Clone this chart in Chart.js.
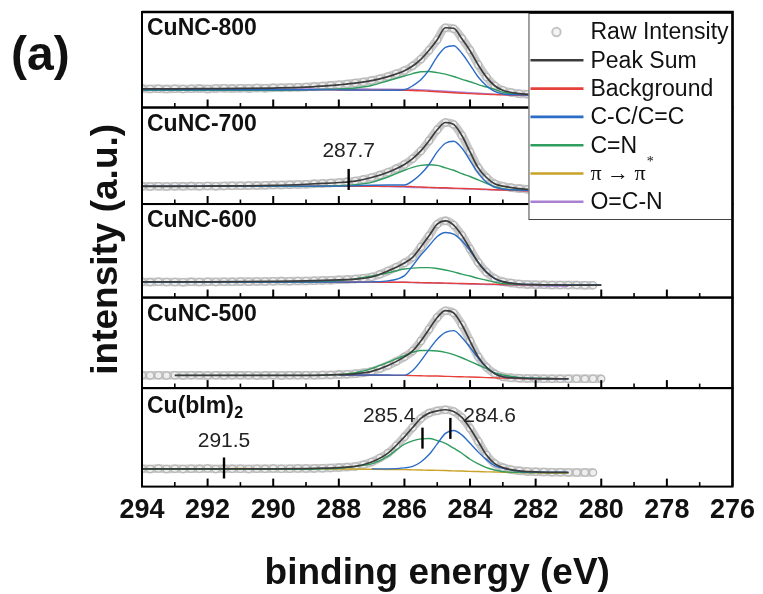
<!DOCTYPE html>
<html><head><meta charset="utf-8">
<script src="https://cdn.jsdelivr.net/npm/chart.js@4.4.0/dist/chart.umd.min.js"></script>
<style>html,body{margin:0;padding:0;background:#fff;}</style>
</head><body>
<canvas id="c" width="763" height="594"></canvas>
<script>
// ---------- DATA (intensity in arbitrary units, 0-100 per panel) ----------
const energies = [294,293,292,291,290,289,288.5,288,287.5,287,286.5,286,285.75,285.5,285.25,285,284.75,284.5,284.25,284,283.75,283.5,283.25,283,282.5,282,281.5,281,280.5,280];
const rawEnergies = [294,293.75,293.5,293.25,293,292.75,292.5,292.25,292,291.75,291.5,291.25,291,290.75,290.5,290.25,290,289.75,289.5,289.25,289,
  288.75,288.5,288.25,288,287.75,287.5,287.25,287,286.75,286.5,286.25,286,285.75,285.5,285.25,285,284.75,284.5,284.25,284,283.75,283.5,283.25,283,282.75,282.5,282.25,282,281.75,281.5,281.25,281,280.75,280.5,280.25,280];
const xTickValues = [294,292,290,288,286,284,282,280,278,276];

const panelNames = ['CuNC-800','CuNC-700','CuNC-600','CuNC-500','Cu(bIm)'];
const panelSubscripts = ['','','','','2'];

// CuNC-800
const raw800 = [19.8,19.5,19.6,19.3,19.7,19.4,19.6,19.8,19.5,19.9,20.1,19.8,20.2,20.0,20.4,20.3,20.6,20.8,21.0,21.2,21.5,22.0,22.6,23.2,23.9,24.7,25.6,26.8,28.3,30.2,32.5,35.3,38.7,43.6,50.6,60.0,71.0,83.5,82.5,72.4,60.0,44.7,31.9,22.8,18.0,15.8,14.5,14.0,13.5,13.4,13.3,13.2,13.2,13.1,13.1,13.0,13.0];
const sum800 = [19.5,19.6,19.8,20.0,20.4,21.3,22.4,23.8,25.5,28.2,32.4,38.6,43.5,50.5,60.0,71.0,83.5,83.0,72.0,59.5,44.5,31.8,22.8,18.0,14.5,13.5,13.3,13.2,13.1,13.0];
const bg800  = [18.5,18.5,18.5,18.5,18.5,18.5,18.5,18.4,18.3,18.2,18.1,18.0,17.8,17.5,17.0,16.5,16.0,15.5,15.0,14.5,14.2,13.8,13.5,13.2,13.0,12.9,12.9,12.8,12.8,12.8];
const cc800  = [18.6,18.6,18.6,18.6,18.6,18.6,18.5,18.5,18.3,18.2,18.1,18.6,22.8,29.0,39.4,53.3,63.0,64.7,56.8,44.7,31.9,22.8,16.9,14.2,13.2,13.0,13.0,13.0,13.0,13.0];
const cn800  = [18.0,18.0,18.0,18.0,18.0,18.5,19.0,19.5,20.5,23.0,28.0,33.0,35.5,37.5,37.7,36.5,35.0,32.5,29.5,27.0,24.0,21.5,19.0,16.0,14.0,13.5,13.3,13.3,13.3,13.3];
const oc800  = [19.4,19.4,19.4,19.4,19.4,19.4,19.4,19.4,19.4,19.3,19.2,19.0,18.8,18.4,18.0,17.5,17.0,16.5,16.0,15.5,15.0,14.5,14.0,13.5,12.8,12.0,11.8,11.5,11.2,11.0];

// CuNC-700
const raw700 = [18.5,18.2,18.4,18.1,18.5,18.3,18.6,18.4,18.7,18.5,18.8,19.0,18.9,19.2,19.1,19.4,19.6,19.8,20.1,20.3,20.5,20.9,21.3,21.8,22.3,23.0,23.8,25.4,27.5,30.0,33.0,36.7,41.0,47.0,55.0,65.5,77.0,84.5,82.5,71.0,54.0,37.5,27.5,21.0,18.5,17.0,16.0,15.2,14.5,14.2,14.0,13.9,13.8,13.7,13.6,13.5,13.5];
const sum700 = [18.3,18.3,18.5,18.8,19.3,20.5,21.3,22.3,23.8,27.5,33.0,41.0,47.0,55.0,65.5,77.0,84.5,82.5,71.0,54.0,37.5,27.5,21.0,18.5,16.0,14.5,14.0,13.8,13.6,13.5];
const bg700  = [18.5,18.5,18.5,18.5,18.5,18.5,18.5,18.5,18.4,18.3,18.3,18.3,18.0,17.6,17.3,17.0,16.8,16.4,16.2,16.0,15.6,15.2,14.8,14.5,14.0,13.5,13.3,13.2,13.1,13.0];
const cc700  = [18.5,18.5,18.5,18.5,18.5,18.5,18.5,18.5,19.0,19.5,19.7,19.7,24.0,31.0,41.0,54.0,63.0,65.0,58.0,45.0,32.0,22.5,17.5,15.5,14.5,14.0,14.0,14.0,14.0,14.0];
const cn700  = [18.3,18.3,18.3,18.3,18.3,18.3,18.5,19.0,20.0,22.5,28.0,35.0,38.0,40.0,40.7,40.0,37.5,35.0,31.5,28.5,25.0,21.5,18.0,16.0,14.5,14.0,14.0,14.0,14.0,14.0];
const oc700  = [18.5,18.5,18.5,18.5,18.5,18.6,18.8,19.0,18.8,18.5,18.0,17.5,17.2,17.0,16.8,16.5,16.2,16.0,15.8,15.5,15.2,15.0,14.7,14.5,14.0,13.5,13.2,13.0,12.8,12.5];

// CuNC-600
const raw600 = [16.8,16.5,16.9,16.6,16.7,16.4,16.8,16.6,16.9,16.7,17.0,16.8,17.1,17.0,17.3,17.2,17.4,17.6,17.5,17.8,17.8,18.0,18.3,18.6,19.0,19.3,19.8,20.6,22.0,24.8,28.5,32.5,37.0,43.0,54.0,66.0,78.5,82.0,77.5,66.5,52.0,37.5,27.0,20.5,17.0,15.5,14.5,14.0,13.8,13.6,13.5,13.4,13.3,13.3,13.2,13.2,null];
const sum600 = [16.7,16.7,16.8,17.0,17.3,17.8,18.3,19.0,19.8,22.0,28.5,37.0,43.0,54.0,66.0,78.5,82.0,77.5,66.5,52.0,37.5,27.0,20.5,17.0,14.5,13.8,13.5,13.3,13.2,13.2];
const bg600  = [16.5,16.5,16.5,16.5,16.5,16.5,16.5,16.5,16.5,16.5,16.4,16.3,16.2,16.0,15.8,15.6,15.4,15.2,15.0,14.8,14.6,14.4,14.2,14.0,13.7,13.5,13.3,13.2,null,null];
const cc600  = [16.5,16.5,16.5,16.5,16.5,16.5,16.5,16.5,16.5,16.8,17.8,23.5,34.0,45.5,55.3,65.3,69.6,67.8,60.7,50.0,37.5,27.5,20.3,16.7,14.5,14.0,13.5,13.5,13.5,13.5];
const cn600  = [16.7,16.7,16.7,16.7,16.7,16.7,17.0,18.0,20.0,23.0,26.5,30.5,31.5,32.0,32.0,31.0,29.5,27.5,25.0,23.0,20.5,18.5,16.5,15.0,14.0,13.8,13.5,13.5,13.5,13.5];
const oc600  = [16.7,16.7,16.7,16.7,16.7,16.7,16.7,16.7,16.6,16.5,16.4,16.3,16.0,15.8,15.6,15.5,15.2,15.0,14.8,14.5,14.2,14.0,13.8,13.5,13.2,12.8,12.4,12.0,null,null];

// CuNC-500
const raw500 = [14.2,14.0,14.3,13.9,14.2,14.0,14.3,14.1,13.9,14.2,14.0,14.3,14.1,14.2,13.9,14.1,14.3,14.0,14.2,14.1,14.2,14.2,14.4,14.6,14.9,15.3,15.9,17.0,18.5,21.5,25.0,29.5,34.5,41.0,52.0,65.0,78.0,85.5,83.0,70.0,52.0,34.5,23.0,16.0,12.5,11.5,11.0,10.7,10.5,10.4,10.4,10.3,10.3,10.3,10.2,10.3,10.2];
const sum500 = [null,14.1,14.1,14.1,14.1,14.1,14.3,14.8,15.8,18.5,25.0,34.5,41.0,52.0,65.0,78.0,85.5,83.0,70.0,52.0,34.5,23.0,16.0,12.5,11.0,10.5,10.4,10.3,null,null];
const bg500  = [null,null,null,null,null,null,null,14.2,14.2,14.2,14.1,14.0,13.8,13.6,13.4,13.3,13.0,12.7,12.5,12.3,12.0,11.6,11.3,11.0,10.6,10.4,10.3,10.2,null,null];
const cc500  = [null,null,null,null,null,null,null,14.5,14.5,14.5,14.4,14.3,19.5,30.0,42.5,54.0,61.5,63.5,56.0,45.0,33.0,23.0,16.0,12.5,11.0,10.5,10.4,10.4,null,null];
const cn500  = [null,14.1,14.1,14.1,14.1,14.1,14.3,15.0,17.0,21.5,28.5,36.0,39.5,41.5,41.5,41.0,39.5,37.0,33.5,29.5,25.5,21.5,17.0,14.5,11.8,10.8,10.5,10.4,null,null];

// Cu(bIm)2
const rawBIm = [18.2,17.9,18.3,17.8,18.1,17.9,18.2,18.0,18.3,17.9,18.2,18.0,18.1,17.9,18.2,18.0,18.3,18.1,18.2,18.4,18.3,18.5,18.7,19.0,19.3,19.8,20.5,22.3,25.0,29.0,34.0,41.5,50.5,60.0,69.2,74.6,76.9,78.0,76.3,70.2,59.3,45.8,32.1,23.4,19.3,17.2,16.0,15.4,15.0,14.8,14.6,14.5,14.4,14.3,14.3,14.2,null];
const sumBIm = [18.0,18.0,18.0,18.0,18.0,18.3,18.7,19.3,20.5,25.0,34.0,50.5,60.0,69.2,74.6,76.9,78.0,76.3,70.2,59.3,45.8,32.1,23.4,19.3,16.0,15.0,14.5,14.3,null,null];
const ccBIm  = [null,null,null,null,null,null,null,null,null,18.0,18.0,19.0,20.5,25.0,32.5,43.4,54.0,57.0,52.5,44.0,35.0,27.4,21.4,18.6,15.5,14.8,14.5,14.5,null,null];
const cnBIm  = [17.5,17.5,17.5,17.5,17.5,17.5,18.0,18.5,20.5,23.0,31.0,43.0,46.4,48.4,48.8,46.8,44.0,39.0,33.9,27.8,23.0,19.3,16.9,15.2,14.5,14.3,14.2,14.2,null,null];
const piBIm  = [18.0,18.0,18.2,18.4,18.2,18.0,18.0,17.9,17.8,17.6,17.4,17.2,17.0,16.8,16.6,16.5,16.3,16.0,15.8,15.5,15.3,15.0,14.8,14.5,14.2,14.0,13.8,13.7,null,null];

// peak-position markers
const markerPanels   = [1, 4, 4, 4];
const markerEnergies = [287.7, 291.5, 285.45, 284.6];
const markerLevels   = [25.5, 18.9, 49.2, 59.1];
const markerLabels   = ['287.7', '291.5', '285.4', '284.6'];

const legendLabels = ['Raw Intensity', 'Peak Sum', 'Background', 'C-C/C=C', 'C=N', 'π → π', 'O=C-N'];
const legendKeys   = ['raw', 'sum', 'bg', 'cc', 'cn', 'pi', 'oc'];

// ---------- STYLE ----------
const COLORS = { raw: '#c2c2c2', sum: '#3c3c3c', bg: '#e5403a', cc: '#2b6cc6', cn: '#2f9d5d', pi: '#c9a227', oc: '#a981d2' };
const ORDER = { raw: 10, oc: 6, pi: 6, bg: 5, cn: 4, cc: 3, sum: 1 };
const SANS = '"Liberation Sans", Arial, sans-serif';
const panelAxes = ['p1', 'p2', 'p3', 'p4', 'p5'];
const panelWeights = [96, 97, 94, 91, 99];
const markerStyle = [
  { align: 'center', dx: 0, dy: -28 },
  { align: 'center', dx: 0, dy: -27 },
  { align: 'right', dx: -7, dy: -22 },
  { align: 'left', dx: 13, dy: -12 }
];

const panelSeries = [
  { raw: raw800, sum: sum800, bg: bg800, cc: cc800, cn: cn800, oc: oc800 },
  { raw: raw700, sum: sum700, bg: bg700, cc: cc700, cn: cn700, oc: oc700 },
  { raw: raw600, sum: sum600, bg: bg600, cc: cc600, cn: cn600, oc: oc600 },
  { raw: raw500, sum: sum500, bg: bg500, cc: cc500, cn: cn500 },
  { raw: rawBIm, sum: sumBIm, cc: ccBIm, cn: cnBIm, pi: piBIm }
];

const datasets = [];
panelSeries.forEach((series, p) => {
  Object.keys(series).forEach(key => {
    const vals = series[key];
    if (key === 'raw') {
      datasets.push({
        label: panelNames[p] + ' raw', yAxisID: panelAxes[p], xAxisID: 'x', order: ORDER.raw,
        data: rawEnergies.map((e, i) => ({ x: e, y: vals[i] })),
        showLine: true, borderColor: 'rgba(198,198,198,0.95)', borderWidth: 8.5,
        pointRadius: 3.6, pointBorderWidth: 1.3, pointBorderColor: '#b8b8b8', pointBackgroundColor: '#eeeeee',
        cubicInterpolationMode: 'monotone', spanGaps: false
      });
    } else {
      datasets.push({
        label: panelNames[p] + ' ' + key, yAxisID: panelAxes[p], xAxisID: 'x', order: ORDER[key],
        data: energies.map((e, i) => ({ x: e, y: vals[i] })),
        borderColor: COLORS[key], borderWidth: key === 'sum' ? 1.7 : 1.4,
        pointRadius: 0, cubicInterpolationMode: 'monotone', spanGaps: false, fill: false
      });
    }
  });
});

const scales = {
  x: {
    type: 'linear', position: 'bottom', min: 276, max: 294, reverse: true,
    grid: { display: false, drawTicks: false }, border: { display: false },
    afterBuildTicks: (s) => { s.ticks = xTickValues.map(v => ({ value: v })); },
    ticks: { color: '#111', padding: 8, maxRotation: 0, autoSkip: false,
      font: { family: SANS, size: 27, weight: 'bold' } }
  }
};
panelAxes.forEach((id, i) => {
  scales[id] = { type: 'linear', position: 'left', min: 0, max: 100, display: false,
    stack: 'panels', stackWeight: panelWeights[i], weight: 5 - i };
});

const deco = {
  id: 'deco',
  afterDatasetsDraw(chart) {
    const ctx = chart.ctx, xs = chart.scales.x, ca = chart.chartArea;
    const L = ca.left, R = ca.right;
    ctx.save();
    // panel frames + inward ticks
    panelAxes.forEach((id) => {
      const ys = chart.scales[id];
      ctx.strokeStyle = '#000'; ctx.lineWidth = 2;
      ctx.strokeRect(L, ys.top, R - L, ys.bottom - ys.top);
      for (let v = 277; v <= 293; v++) {
        const x = xs.getPixelForValue(v);
        const major = v % 2 === 0;
        ctx.lineWidth = major ? 2 : 1.6;
        ctx.beginPath(); ctx.moveTo(x, ys.bottom); ctx.lineTo(x, ys.bottom - (major ? 8 : 4.5)); ctx.stroke();
      }
    });
    // panel names
    ctx.fillStyle = '#111'; ctx.textBaseline = 'alphabetic'; ctx.textAlign = 'left';
    panelAxes.forEach((id, i) => {
      const ys = chart.scales[id];
      ctx.font = 'bold 23px ' + SANS;
      const y0 = ys.top + (i === 4 ? 25 : 23);
      ctx.fillText(panelNames[i], L + 5, y0);
      if (panelSubscripts[i]) {
        const w = ctx.measureText(panelNames[i]).width;
        ctx.font = 'bold 16px ' + SANS;
        ctx.fillText(panelSubscripts[i], L + 5 + w + 0.5, y0 + 5);
      }
    });
    // peak markers
    markerEnergies.forEach((e, i) => {
      const ys = chart.scales[panelAxes[markerPanels[i]]];
      const x = xs.getPixelForValue(e), yc = ys.getPixelForValue(markerLevels[i]);
      ctx.strokeStyle = '#000'; ctx.lineWidth = 2.4;
      ctx.beginPath(); ctx.moveTo(x, yc - 10.5); ctx.lineTo(x, yc + 10.5); ctx.stroke();
      const st = markerStyle[i];
      ctx.font = '21px ' + SANS; ctx.fillStyle = '#222'; ctx.textAlign = st.align; ctx.textBaseline = 'middle';
      ctx.fillText(markerLabels[i], x + st.dx, yc + st.dy);
    });
    // legend box
    const lw = 204, lh = 207, lx = R - lw, ly = ca.top + 1;
    ctx.fillStyle = '#fff'; ctx.fillRect(lx, ly, lw, lh);
    ctx.strokeStyle = '#444'; ctx.lineWidth = 1;
    ctx.strokeRect(lx + 0.5, ly + 0.5, lw - 1, lh - 1);
    legendKeys.forEach((k, i) => {
      const cy = ly + 19 + i * 28.3;
      if (k === 'raw') {
        ctx.strokeStyle = '#c4c4c4'; ctx.lineWidth = 2; ctx.fillStyle = '#f4f4f4';
        ctx.beginPath(); ctx.arc(lx + 28, cy, 4.2, 0, Math.PI * 2); ctx.fill(); ctx.stroke();
      } else {
        ctx.strokeStyle = COLORS[k]; ctx.lineWidth = 2.6;
        ctx.beginPath(); ctx.moveTo(lx + 2, cy); ctx.lineTo(lx + 55, cy); ctx.stroke();
      }
      ctx.fillStyle = '#111'; ctx.textAlign = 'left'; ctx.textBaseline = 'middle';
      if (k === 'pi') {
        ctx.font = '22px "Liberation Serif", "Times New Roman", serif';
        ctx.fillText(legendLabels[i], lx + 62, cy + 1);
        const w = ctx.measureText(legendLabels[i]).width;
        ctx.font = '14px "Liberation Serif", serif';
        ctx.fillText('*', lx + 62 + w + 1, cy - 11);
      } else {
        ctx.font = '23px ' + SANS;
        ctx.fillText(legendLabels[i], lx + 62, cy + 1);
      }
    });
    // outer top / right frame over legend
    ctx.strokeStyle = '#000'; ctx.lineWidth = 2.4;
    ctx.beginPath(); ctx.moveTo(L, ca.top); ctx.lineTo(R, ca.top); ctx.lineTo(R, ca.bottom); ctx.stroke();
    ctx.restore();
  },
  afterDraw(chart) {
    const ctx = chart.ctx, ca = chart.chartArea;
    ctx.save();
    ctx.fillStyle = '#111';
    ctx.textAlign = 'center'; ctx.textBaseline = 'alphabetic';
    ctx.font = 'bold 37px ' + SANS;
    ctx.fillText('binding energy (eV)', (ca.left + ca.right) / 2, 584);
    ctx.save();
    ctx.translate(107, (ca.top + ca.bottom) / 2);
    ctx.rotate(-Math.PI / 2);
    ctx.textBaseline = 'middle';
    ctx.font = 'bold 37px ' + SANS;
    ctx.fillText('intensity (a.u.)', 0, 0);
    ctx.restore();
    ctx.textAlign = 'left';
    ctx.font = 'bold 48px ' + SANS;
    ctx.fillText('(a)', 11, 70);
    ctx.restore();
  }
};

new Chart(document.getElementById('c'), {
  type: 'line',
  data: { datasets },
  options: {
    responsive: false, animation: false, events: [],
    layout: { padding: { left: 142, right: 28, top: 12, bottom: 59 } },
    plugins: { legend: { display: false }, tooltip: { enabled: false } },
    scales
  },
  plugins: [deco]
});
</script>
</body></html>
